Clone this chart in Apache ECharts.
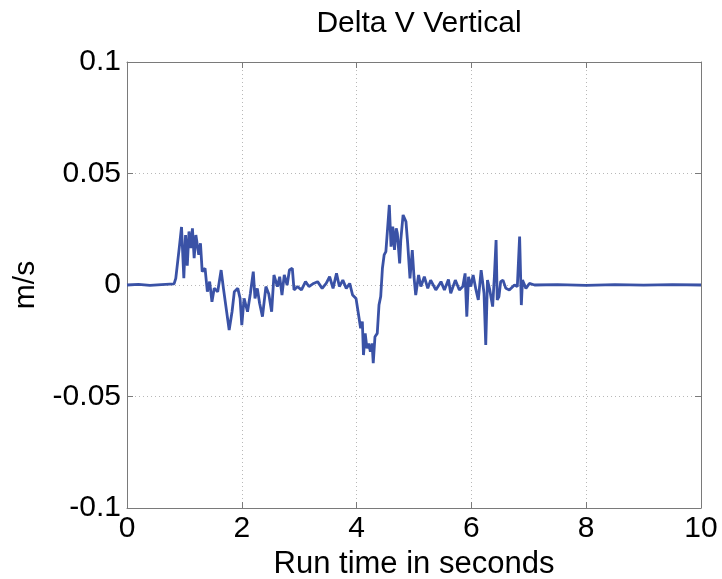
<!DOCTYPE html>
<html>
<head>
<meta charset="utf-8">
<script src="https://cdn.jsdelivr.net/npm/echarts@6/dist/echarts.min.js"></script>
<style>
  html, body { margin: 0; padding: 0; background: #fff; }
  #container { width: 722px; height: 579px; }
</style>
</head>
<body>
<div id="container"></div>
<script>
var dom = document.getElementById("container");
var myChart = echarts.init(dom);
var option;

// [run time (s), delta v (m/s)]
var deltaV = [
  [0, 0], [0.2, 0.0003], [0.4, -0.0002], [0.6, 0.0002], [0.82, 0.0005],
  [0.85, 0.003], [0.91, 0.0165], [0.95, 0.026], [0.99, 0.003], [1.02, 0.0224],
  [1.05, 0.0087], [1.08, 0.024], [1.11, 0.0165], [1.14, 0.0254], [1.17, 0.012],
  [1.20, 0.0224], [1.25, 0.0135], [1.28, 0.0187], [1.31, 0.006], [1.36, 0.0075],
  [1.40, -0.003], [1.44, 0.0015], [1.48, -0.0075], [1.52, -0.0015], [1.58, -0.003],
  [1.64, 0.0067], [1.68, -0.0015], [1.72, -0.009], [1.78, -0.0202], [1.83, -0.012],
  [1.87, -0.003], [1.93, -0.0015], [1.97, -0.006], [2.00, -0.018], [2.04, -0.006],
  [2.10, -0.012], [2.15, -0.0037], [2.20, 0.006], [2.23, -0.006], [2.27, -0.0015],
  [2.31, -0.0082], [2.36, -0.0142], [2.42, -0.0007], [2.47, -0.004], [2.52, -0.012],
  [2.56, 0.0045], [2.62, -0.0007], [2.66, 0.0037], [2.70, -0.0045], [2.74, 0.0045],
  [2.79, 0], [2.83, 0.0067], [2.88, 0.0075], [2.91, -0.0022], [2.97, -0.0007],
  [3.04, -0.0022], [3.11, 0.0015], [3.17, -0.0007], [3.25, 0.0007], [3.32, 0.0015],
  [3.40, -0.0015], [3.47, 0.0007], [3.53, 0.0037], [3.59, -0.0015], [3.65, 0.0052],
  [3.70, -0.0007], [3.76, 0.0022], [3.82, -0.0015], [3.88, 0.0007], [3.93, -0.0045],
  [3.99, -0.006],
  [4.03, -0.0127], [4.07, -0.0194], [4.10, -0.0164], [4.12, -0.0314], [4.15, -0.0217],
  [4.18, -0.0284], [4.21, -0.0262], [4.24, -0.0299], [4.27, -0.0262], [4.29, -0.0351],
  [4.32, -0.0232], [4.36, -0.0217], [4.39, -0.009], [4.42, -0.0052], [4.45, 0.0075],
  [4.48, 0.0135], [4.51, 0.015], [4.54, 0.0254], [4.57, 0.0359], [4.60, 0.0172],
  [4.63, 0.0262], [4.66, 0.0157], [4.69, 0.0254], [4.71, 0.0232], [4.75, 0.0097],
  [4.77, 0.0202], [4.81, 0.0314], [4.86, 0.0284], [4.89, 0.0187], [4.93, 0.003],
  [4.97, 0.0157], [5.00, 0.0037], [5.03, -0.0045], [5.08, 0.0045], [5.12, -0.0007],
  [5.18, 0.0037], [5.24, -0.0015], [5.29, 0.0022], [5.38, -0.0022], [5.47, 0.0015],
  [5.53, -0.0022], [5.60, 0.0025], [5.64, -0.0037], [5.72, 0.0022], [5.79, -0.0022],
  [5.85, -0.0007], [5.89, 0.0052], [5.92, -0.0142], [5.95, 0.0037], [5.99, -0.0007],
  [6.03, 0.0045], [6.08, -0.0022], [6.12, -0.0067], [6.17, 0.0067], [6.20, 0.0075],
  [6.22, -0.0037], [6.25, -0.0269], [6.28, 0.0022], [6.32, -0.0022], [6.37, -0.0097],
  [6.40, 0.0037], [6.43, 0.0202], [6.45, -0.0067], [6.48, -0.0052], [6.51, 0.0015],
  [6.55, 0.0022], [6.60, -0.0015], [6.66, -0.0022], [6.75, 0], [6.80, -0.0007],
  [6.84, 0.0217], [6.87, -0.009], [6.89, 0.0022], [6.95, -0.0015], [7.01, 0.0007],
  [7.10, 0], [7.5, 0.0002], [8, -0.0002], [8.5, 0.0002], [9, -0.0001],
  [9.5, 0.0002], [10, 0]
];

var xTicks = [0, 2, 4, 6, 8, 10];
var yTicks = [-0.1, -0.05, 0, 0.05, 0.1];

var fontFamily = "Liberation Sans, Arial, sans-serif";
var frameColor = "#7a7a7a";
var gridColor = "#b8b8b8";

option = {
  animation: false,
  title: {
    text: "Delta V Vertical",
    left: 414,
    top: 4,
    textAlign: "center",
    textStyle: { fontFamily: fontFamily, fontSize: 30, fontWeight: "normal", color: "#000" }
  },
  grid: { left: 127, right: 21, top: 62, bottom: 71, containLabel: false, outerBoundsMode: "none" },
  xAxis: [
    {
      type: "value",
      min: xTicks[0],
      max: xTicks[xTicks.length - 1],
      interval: 2,
      name: "Run time in seconds",
      nameLocation: "middle",
      nameGap: 40,
      nameTextStyle: { fontFamily: fontFamily, fontSize: 31, color: "#000" },
      axisLine: { onZero: false, lineStyle: { color: frameColor, width: 1 } },
      axisTick: { inside: true, length: 6, lineStyle: { color: frameColor } },
      axisLabel: { fontFamily: fontFamily, fontSize: 30, color: "#000", margin: 6 },
      splitLine: { show: true, lineStyle: { color: gridColor, type: [1, 3], width: 1 } }
    },
    {
      type: "value",
      position: "top",
      min: xTicks[0],
      max: xTicks[xTicks.length - 1],
      interval: 2,
      axisLine: { onZero: false, lineStyle: { color: frameColor, width: 1 } },
      axisTick: { inside: true, length: 6, lineStyle: { color: frameColor } },
      axisLabel: { show: false },
      splitLine: { show: false }
    }
  ],
  yAxis: [
    {
      type: "value",
      min: yTicks[0],
      max: yTicks[yTicks.length - 1],
      interval: 0.05,
      name: "m/s",
      nameLocation: "middle",
      nameGap: 86,
      nameTextStyle: { fontFamily: fontFamily, fontSize: 30, color: "#000" },
      axisLine: { show: true, onZero: false, lineStyle: { color: frameColor, width: 1 } },
      axisTick: { show: true, inside: true, length: 6, lineStyle: { color: frameColor } },
      axisLabel: {
        fontFamily: fontFamily, fontSize: 30, color: "#000", margin: 6,
        formatter: function (v) { return String(+v.toFixed(2)); }
      },
      splitLine: { show: true, lineStyle: { color: gridColor, type: [1, 3], width: 1 } }
    },
    {
      type: "value",
      position: "right",
      min: yTicks[0],
      max: yTicks[yTicks.length - 1],
      interval: 0.05,
      axisLine: { show: true, onZero: false, lineStyle: { color: frameColor, width: 1 } },
      axisTick: { show: true, inside: true, length: 6, lineStyle: { color: frameColor } },
      axisLabel: { show: false },
      splitLine: { show: false }
    }
  ],
  series: [
    {
      name: "Delta V",
      type: "line",
      data: deltaV,
      showSymbol: false,
      symbol: "none",
      lineStyle: { color: "#3a52a6", width: 2.8 },
      z: 3
    }
  ]
};

myChart.setOption(option);
</script>
</body>
</html>
